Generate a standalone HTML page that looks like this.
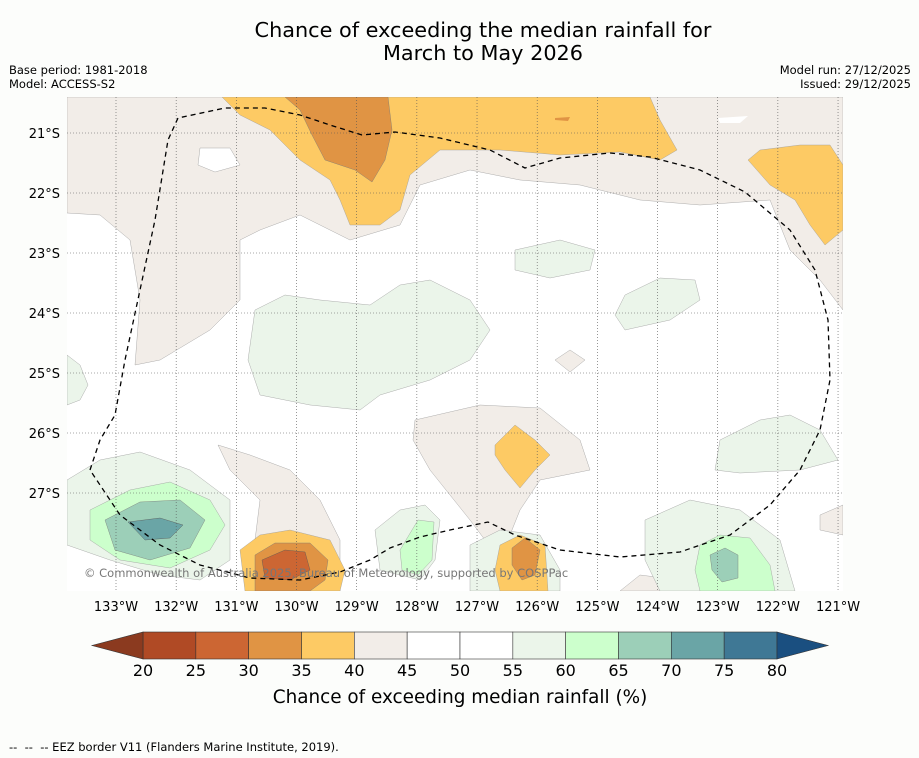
<!DOCTYPE html>
<html><head><meta charset="utf-8"><style>
body{margin:0;background:#fcfdfb;font-family:"DejaVu Sans","Liberation Sans",sans-serif;}
#w{position:relative;width:919px;height:758px;overflow:hidden;background:#fcfdfb}
.t{position:absolute;color:#000;font-size:11.5px}
svg text{font-family:"DejaVu Sans","Liberation Sans",sans-serif}
</style></head><body>
<div id="w">
<div class="t" style="left:0;width:966px;top:19px;text-align:center;font-size:20.8px;line-height:23px">Chance of exceeding the median rainfall for<br>March to May 2026</div>
<div class="t" style="left:9px;top:63px;line-height:14px">Base period: 1981-2018<br>Model: ACCESS-S2</div>
<div class="t" style="right:8px;top:63px;line-height:14px;text-align:right">Model run: 27/12/2025<br>Issued: 29/12/2025</div>
<div class="t" style="left:9px;top:740px;font-size:11.5px">-- &nbsp;-- &nbsp;-- EEZ border V11 (Flanders Marine Institute, 2019).</div>
<svg id="s" width="919" height="758" style="position:absolute;left:0;top:0" xmlns="http://www.w3.org/2000/svg">
<defs><clipPath id="cp"><rect x="67" y="97" width="776" height="494"/></clipPath></defs>
<g id="map" clip-path="url(#cp)">
<rect x="67" y="97" width="776" height="494" fill="#fff"/>
<g fill="#f2ede8" stroke="#999" stroke-width="0.4">
<path d="M67,97 H843 V310 L820,280 L790,250 L770,200 L700,205 L640,200 L580,185 L520,180 L470,170 L420,185 L400,225 L350,240 L300,215 L260,230 L240,240 L240,300 L210,330 L160,360 L135,365 L140,300 L130,240 L100,215 L67,213Z"/>
<path d="M200,148 L230,148 L240,165 L215,172 L198,165Z" fill="#fff"/>
<path d="M415,420 L480,405 L540,408 L580,440 L590,470 L540,480 L520,510 L500,560 L470,520 L430,470 L413,440Z"/>
<path d="M218,445 L250,455 L290,470 L320,500 L340,540 L340,591 L250,591 L255,540 L260,500 L230,470Z"/>
<path d="M555,360 L570,350 L585,360 L570,372Z"/>
<path d="M620,591 L640,575 L680,580 L700,591Z"/>
<path d="M820,515 L843,505 V535 L820,530Z"/>
</g>
<g fill="#ebf5ea" stroke="#999" stroke-width="0.4">
<path d="M255,310 L285,295 L320,300 L370,305 L400,285 L430,280 L470,300 L490,330 L470,360 L430,380 L380,395 L360,410 L310,405 L260,395 L248,360Z"/>
<path d="M515,250 L560,240 L595,250 L590,270 L550,278 L515,270Z"/>
<path d="M625,295 L660,278 L695,280 L700,300 L670,320 L625,330 L615,315Z"/>
<path d="M720,440 L760,420 L790,415 L820,430 L838,460 L800,470 L740,473 L715,470Z"/>
<path d="M67,480 L100,460 L140,452 L190,470 L230,500 L230,560 L200,580 L160,575 L110,560 L67,545Z"/>
<path d="M375,530 L400,510 L425,505 L440,520 L435,560 L420,580 L380,570Z"/>
<path d="M470,545 L500,530 L540,535 L560,570 L560,591 L470,591Z"/>
<path d="M645,520 L690,500 L740,510 L780,540 L795,591 L660,591 L645,560Z"/>
<path d="M67,355 L80,365 L88,385 L80,400 L67,405Z"/>
</g>
<g fill="#ccffcc" stroke="#999" stroke-width="0.4">
<path d="M90,510 L130,490 L170,482 L210,500 L225,525 L210,550 L170,568 L120,560 L90,540Z"/>
<path d="M400,550 L418,520 L434,522 L432,560 L418,575 L402,570Z"/>
<path d="M700,545 L720,535 L750,538 L770,565 L775,591 L700,591 L695,570Z"/>
</g>
<g fill="#9ccfb8" stroke="#777" stroke-width="0.4">
<path d="M105,520 L140,502 L180,500 L205,520 L190,548 L150,560 L115,550Z"/>
<path d="M710,555 L725,548 L738,555 L738,578 L722,582 L712,570Z"/>
</g>
<path d="M128,522 L160,518 L183,525 L170,538 L145,540 Z" fill="#6aa5a6" stroke="#555" stroke-width="0.4"/>
<g fill="#fdca64" stroke="#999" stroke-width="0.4">
<path d="M222,97 H650 L660,120 L677,150 L660,160 L620,152 L560,155 L500,150 L440,150 L410,175 L400,210 L380,225 L350,225 L340,200 L330,180 L300,160 L270,130 L240,115Z"/>
<path d="M760,150 L800,145 L830,145 L843,165 V230 L825,245 L810,225 L795,200 L770,185 L748,160Z"/>
<path d="M495,445 L515,425 L535,440 L550,455 L535,470 L520,488 L505,470 L495,455Z"/>
<path d="M240,550 L260,535 L290,530 L330,540 L345,570 L340,591 L245,591Z"/>
<path d="M500,545 L520,535 L545,545 L548,591 L500,591 L495,570Z"/>
</g>
<g fill="#e09444" stroke="#777" stroke-width="0.4">
<path d="M285,97 H388 L392,130 L385,160 L372,182 L355,170 L325,160 L312,135 L300,110Z"/>
<path d="M255,555 L275,543 L310,543 L328,560 L325,580 L310,591 L255,591Z"/>
<path d="M512,548 L525,538 L540,550 L535,575 L522,580 L512,565Z"/>
</g>
<path d="M262,560 L285,550 L305,552 L310,570 L290,580 L265,578Z" fill="#cc6633" stroke="#555" stroke-width="0.4"/>
<path d="M555,118 L570,117 L568,121 L555,120Z" fill="#e09444"/>
<path d="M718,118 L748,116 L740,123 L720,123Z" fill="#fff"/>
<g id="grid" stroke="#555" stroke-width="0.6" stroke-dasharray="1,2" fill="none"></g>
<path d="M90,470 L100,440 L115,415 L125,360 L140,290 L155,220 L168,140 L178,118 L225,108 L265,108 L300,115 L330,125 L362,135 L395,132 L440,138 L490,150 L525,168 L560,158 L610,153 L650,157 L700,170 L745,192 L790,230 L815,270 L828,320 L830,380 L820,430 L800,470 L770,505 L730,535 L680,552 L620,557 L560,550 L515,535 L488,522 L450,530 L420,537 L390,548 L370,560 L340,572 L300,580 L250,578 L200,565 L160,545 L120,515 L90,470Z" fill="none" stroke="#000" stroke-width="1.3" stroke-dasharray="5,4"/>
<text x="84" y="577" font-size="11.5" fill="#777">© Commonwealth of Australia 2025, Bureau of Meteorology, supported by COSPPac</text>
</g>
<g id="axes" font-size="13" fill="#000"></g>
<g id="cbar"></g>
<text x="460" y="703" font-size="18.4" text-anchor="middle">Chance of exceeding median rainfall (%)</text>
</svg>
</div>
<script>
const lonTicks=[133,132,131,130,129,128,127,126,125,124,123,122,121];
const latTicks=[21,22,23,24,25,26,27];
const levels=[20,25,30,35,40,45,50,55,60,65,70,75,80];
const binColors=["#b04a25","#cc6633","#e09444","#fdca64","#f2ede8","#ffffff","#ffffff","#ebf5ea","#ccffcc","#9ccfb8","#6aa5a6","#3f7895"];
const NS="http://www.w3.org/2000/svg";
function xLon(l){return 116+(133-l)*60.17;}
function yLat(l){return 133+(l-21)*60;}
function xLev(v){return 143+(v-20)*(634/60);}
function mk(t,a,p){const e=document.createElementNS(NS,t);for(const k in a)e.setAttribute(k,a[k]);p.appendChild(e);return e;}
const grid=document.getElementById('grid'),axes=document.getElementById('axes'),cb=document.getElementById('cbar');
lonTicks.forEach(l=>{const x=xLon(l);
const g=mk('line',{x1:x,x2:x,y1:97,y2:591},grid);


const t=mk('text',{x:x,y:611,'text-anchor':'middle'},axes);t.textContent=l+'°W';

});
latTicks.forEach(l=>{const y=yLat(l);
const g=mk('line',{x1:67,x2:843,y1:y,y2:y},grid);


const t=mk('text',{x:60,y:y+5,'text-anchor':'end'},axes);t.textContent=l+'°S';

});
binColors.forEach((c,i)=>{const x0=xLev(levels[i]),x1=xLev(levels[i+1]);
const r=mk('rect',{x:x0,y:632,width:x1-x0,height:27,fill:c,stroke:'#333','stroke-width':0.6},cb);

});
const lo=mk('polygon',{points:`${xLev(20)},632 ${xLev(20)},659 92,645.5`,fill:'#8b3a1f',stroke:'#333','stroke-width':0.6},cb);


const hi=mk('polygon',{points:`${xLev(80)},632 ${xLev(80)},659 828,645.5`,fill:'#1a4f80',stroke:'#333','stroke-width':0.6},cb);


levels.forEach(v=>{const t=mk('text',{x:xLev(v),y:676,'text-anchor':'middle','font-size':16},cb);t.textContent=v;

});
</script>
</body></html>
